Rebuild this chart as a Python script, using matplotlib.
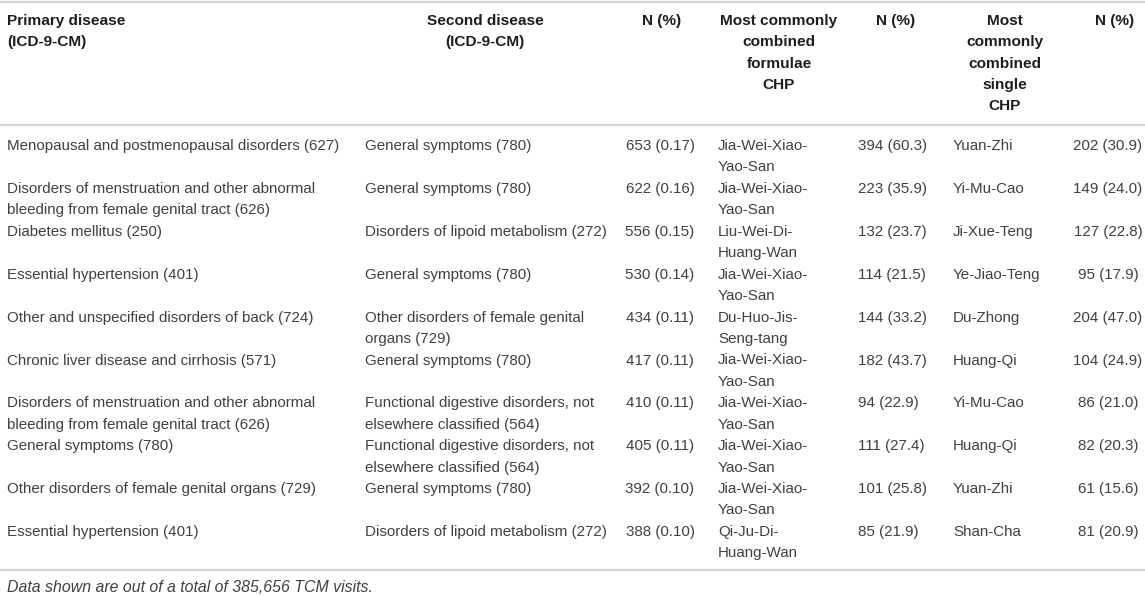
import matplotlib
matplotlib.use("Agg")
import matplotlib.pyplot as plt

# table content
headers = ["Primary disease\n(ICD-9-CM)", "Second disease\n(ICD-9-CM)", "N (%)",
           "Most commonly\ncombined\nformulae\nCHP", "N (%)",
           "Most\ncommonly\ncombined\nsingle\nCHP", "N (%)"]

primary = [
    "Menopausal and postmenopausal disorders (627)",
    "Disorders of menstruation and other abnormal\nbleeding from female genital tract (626)",
    "Diabetes mellitus (250)",
    "Essential hypertension (401)",
    "Other and unspecified disorders of back (724)",
    "Chronic liver disease and cirrhosis (571)",
    "Disorders of menstruation and other abnormal\nbleeding from female genital tract (626)",
    "General symptoms (780)",
    "Other disorders of female genital organs (729)",
    "Essential hypertension (401)",
]
second = [
    "General symptoms (780)",
    "General symptoms (780)",
    "Disorders of lipoid metabolism (272)",
    "General symptoms (780)",
    "Other disorders of female genital\norgans (729)",
    "General symptoms (780)",
    "Functional digestive disorders, not\nelsewhere classified (564)",
    "Functional digestive disorders, not\nelsewhere classified (564)",
    "General symptoms (780)",
    "Disorders of lipoid metabolism (272)",
]
pair_n = [653, 622, 556, 530, 434, 417, 410, 405, 392, 388]
pair_pct = [0.17, 0.16, 0.15, 0.14, 0.11, 0.11, 0.11, 0.11, 0.10, 0.10]

formula = ["Jia-Wei-Xiao-\nYao-San", "Jia-Wei-Xiao-\nYao-San", "Liu-Wei-Di-\nHuang-Wan",
           "Jia-Wei-Xiao-\nYao-San", "Du-Huo-Jis-\nSeng-tang", "Jia-Wei-Xiao-\nYao-San",
           "Jia-Wei-Xiao-\nYao-San", "Jia-Wei-Xiao-\nYao-San", "Jia-Wei-Xiao-\nYao-San",
           "Qi-Ju-Di-\nHuang-Wan"]
formula_n = [394, 223, 132, 114, 144, 182, 94, 111, 101, 85]
formula_pct = [60.3, 35.9, 23.7, 21.5, 33.2, 43.7, 22.9, 27.4, 25.8, 21.9]

single = ["Yuan-Zhi", "Yi-Mu-Cao", "Ji-Xue-Teng", "Ye-Jiao-Teng", "Du-Zhong",
          "Huang-Qi", "Yi-Mu-Cao", "Huang-Qi", "Yuan-Zhi", "Shan-Cha"]
single_n = [202, 149, 127, 95, 204, 104, 86, 82, 61, 81]
single_pct = [30.9, 24.0, 22.8, 17.9, 47.0, 24.9, 21.0, 20.3, 15.6, 20.9]

footnote = "Data shown are out of a total of 385,656 TCM visits."

W, H = 1145, 596
fig = plt.figure(figsize=(W / 100, H / 100), dpi=100)
ax = fig.add_axes([0, 0, 1, 1])
ax.set_xlim(0, W)
ax.set_ylim(H, 0)
ax.axis("off")

font = "Liberation Sans"
fs = 10.9
fs_head = 11.1
body_col = "#404040"
head_col = "#1e1e1e"
line_col = "#d6d6d6"
dy = 21.3       # line step inside a cell
row_step = 42.9

# header text: (x, ha)
head_pos = [(7, "left"), (485, "center"), (662, "center"), (779, "center"),
            (896, "center"), (1005, "center"), (1115, "center")]
for (x, ha), h in zip(head_pos, headers):
    for k, part in enumerate(h.split("\n")):
        ax.text(x, 21 + k * dy, part, ha=ha, va="center", fontsize=fs_head,
                family=font, weight="bold", color=head_col)

# rules
for y in (1.5, 125, 570):
    ax.axhline(y, color=line_col, lw=1.6)

body_pos = [(7, "left"), (365, "left"), (660, "center"), (718, "left"),
            (858, "left"), (953, "left"), (1108, "center")]

for i in range(len(primary)):
    cells = [primary[i], second[i], f"{pair_n[i]} ({pair_pct[i]:.2f})",
             formula[i], f"{formula_n[i]} ({formula_pct[i]:.1f})",
             single[i], f"{single_n[i]} ({single_pct[i]:.1f})"]
    y0 = 146 + i * row_step
    for (x, ha), c in zip(body_pos, cells):
        for k, part in enumerate(c.split("\n")):
            ax.text(x, y0 + k * dy, part, ha=ha, va="center", fontsize=fs,
                    family=font, color=body_col)

ax.text(7, 587, footnote, ha="left", va="center", fontsize=11.4,
        family=font, style="italic", color=body_col)

fig.savefig("out.png", dpi=100)
